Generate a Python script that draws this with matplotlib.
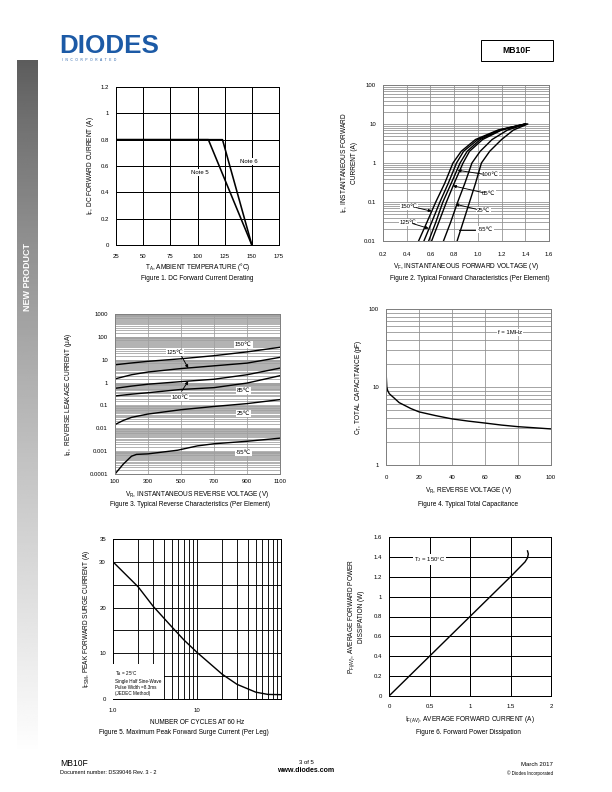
import numpy as np
import matplotlib.pyplot as plt
from matplotlib.patches import Rectangle

plt.rcParams['font.family'] = ['Liberation Sans', 'DejaVu Sans']
plt.rcParams['mathtext.fontset'] = 'custom'
plt.rcParams['mathtext.rm'] = 'Liberation Sans'
plt.rcParams['mathtext.it'] = 'Liberation Sans'
plt.rcParams['font.size'] = 6

W, H = 612, 792

# Figure 1 - derating
note5_t = [25, 110, 150]
note5_i = [0.8, 0.8, 0.0]
note6_t = [25, 123, 150]
note6_i = [0.8, 0.8, 0.0]

# Figure 2 - forward characteristics (I in A, V per curve)
fwd_i = [0.01, 0.03, 0.1, 0.3, 1, 2, 4, 7, 10]
fwd_v = {
    "150": [0.50, 0.57, 0.645, 0.72, 0.79, 0.86, 0.98, 1.17, 1.40],
    "125": [0.545, 0.61, 0.68, 0.75, 0.82, 0.88, 1.00, 1.18, 1.40],
    "100": [0.585, 0.645, 0.705, 0.775, 0.85, 0.91, 1.02, 1.19, 1.40],
    "85": [0.61, 0.67, 0.735, 0.80, 0.875, 0.93, 1.04, 1.20, 1.40],
    "25": [0.71, 0.77, 0.83, 0.89, 0.95, 1.02, 1.12, 1.25, 1.41],
    "-55": [0.825, 0.875, 0.93, 0.98, 1.03, 1.10, 1.20, 1.30, 1.42],
}

# Figure 3 - reverse characteristics (uA)
rev_v = [100, 200, 300, 500, 700, 900, 1100]
rev_150 = [6, 7.2, 8.5, 11, 15, 22, 35]
rev_125 = [1.45, 2.2, 2.9, 4.1, 5.4, 7.1, 12.7]
rev_100 = [0.56, 0.7, 0.85, 1.1, 1.4, 2.2, 4.3]
rev_85 = [0.26, 0.31, 0.36, 0.5, 0.6, 0.95, 2.0]
rev_v25 = [100, 150, 200, 300, 500, 700, 900, 1100]
rev_25 = [0.0145, 0.022, 0.03, 0.042, 0.065, 0.09, 0.12, 0.18]
rev_vm55 = [100, 150, 200, 230, 300, 480, 600, 700, 900, 1100]
rev_m55 = [0.0001, 0.00027, 0.0006, 0.00072, 0.00076, 0.0011, 0.0017, 0.0021, 0.0027, 0.0037]

# Figure 4 - capacitance
cap_v = [0, 0.5, 1, 2, 5, 8, 10, 15, 20, 30, 40, 50, 60, 70, 80, 90, 100]
cap_pf = [16, 10, 9, 8.2, 7.2, 6.3, 6.0, 5.3, 4.8, 4.3, 3.9, 3.65, 3.45, 3.25, 3.1, 3.0, 2.9]

# Figure 5 - surge current
surge_n = [1, 2, 3, 5, 7, 10, 20, 30, 50, 70, 100]
surge_a = [30, 24.5, 20.3, 15.8, 12.9, 10.2, 5.4, 3.2, 1.5, 1.0, 0.95]

# Figure 6 - power dissipation
pd_i = [0, 0.5, 1.0, 1.5, 1.62, 1.68, 1.71, 1.72, 1.71]
pd_p = [0, 0.4, 0.8, 1.2, 1.3, 1.35, 1.39, 1.43, 1.46]


def px_axes(fig, l, t, r, b):
    ax = fig.add_axes([l / W, 1 - b / H, (r - l) / W, (b - t) / H])
    ax._px = (l, t, r, b)
    return ax


def ftext(fig, x, y, s, **kw):
    fig.text(x / W, 1 - y / H, s, **kw)


def style(ax, color, xpad, ypad=7):
    for sp in ax.spines.values():
        sp.set_color(color)
        sp.set_linewidth(1)
    ax.tick_params(which='both', length=0, labelsize=6)
    ax.tick_params(axis='x', pad=xpad)
    ax.tick_params(axis='y', pad=ypad)
    ax.set_axisbelow(True)


def place_labels(ax, xlab_y, ylab_x):
    # put axis titles at page pixel positions (centre of text)
    l, t, r, b = ax._px
    ax.xaxis.set_label_coords(0.5, -(xlab_y - b) / (b - t))
    ax.xaxis.label.set_va('center')
    ax.yaxis.set_label_coords(-(l - ylab_x) / (r - l), 0.5)
    ax.yaxis.label.set_va('center')


box = dict(facecolor='white', edgecolor='none', pad=1)
arrow = dict(arrowstyle='-|>', color='black', lw=0.9, mutation_scale=6, shrinkA=0, shrinkB=0)

fig = plt.figure(figsize=(W / 72, H / 72), dpi=72)

# side bar
side = fig.add_axes([17 / W, 1 - 755 / H, 21 / W, 695 / H])
t = np.linspace(0, 1, 300)
grad = 0.36 + 0.64 * t ** 0.85
side.imshow(grad[:, None], cmap='gray', vmin=0, vmax=1, aspect='auto')
side.axis('off')
ftext(fig, 27.5, 277, "NEW PRODUCT", rotation=90, color='white', fontsize=9,
      fontweight='bold', ha='center', va='center')

# header
ftext(fig, 59, 46, "DIODES", fontsize=26, fontweight='bold', color='#1c5aa6',
      va='center', ha='left')
ftext(fig, 62, 60, "I   N   C   O   R   P   O   R   A   T   E   D", fontsize=3.2, color='#1c5aa6',
      va='center', ha='left')
fig.patches.append(Rectangle((481 / W, 1 - 61 / H), 72 / W, 21 / H, transform=fig.transFigure,
                             facecolor='white', edgecolor='black', lw=1))
ftext(fig, 517, 50.5, "MB10F", fontsize=8.5, fontweight='bold', ha='center', va='center')

# ---- Figure 1
ax1 = px_axes(fig, 116, 87, 279, 245)
style(ax1, 'black', 8.5)
ax1.set_xlim(25, 175)
ax1.set_ylim(0, 1.2)
ax1.set_xticks([25, 50, 75, 100, 125, 150, 175])
ax1.set_yticks([0, 0.2, 0.4, 0.6, 0.8, 1.0, 1.2])
ax1.set_yticklabels(['0', '0.2', '0.4', '0.6', '0.8', '1', '1.2'])
ax1.grid(color='black', lw=1)
ax1.plot(note5_t, note5_i, color='black', lw=1.6)
ax1.plot(note6_t, note6_i, color='black', lw=1.6)
ax1.text(102, 0.55, "Note 5", ha='center', va='center', bbox=box)
ax1.text(147, 0.635, "Note 6", ha='center', va='center', bbox=box)
ax1.set_xlabel(r"T$_{\mathregular{A}}$, AMBIENT TEMPERATURE (°C)", fontsize=6.5)
ax1.set_ylabel(r"I$_{\mathregular{F}}$, DC FORWARD CURRENT (A)", fontsize=6.5)
place_labels(ax1, 267, 90)
ftext(fig, 197, 279, "Figure 1. DC Forward Current Derating", fontsize=6.5, ha='center', va='center')

# ---- Figure 2
ax2 = px_axes(fig, 383, 85, 549, 241)
style(ax2, '#808080', 10.5)
ax2.set_yscale('log')
ax2.set_xlim(0.2, 1.6)
ax2.set_ylim(0.01, 100)
ax2.set_xticks([0.2, 0.4, 0.6, 0.8, 1.0, 1.2, 1.4, 1.6])
ax2.set_xticklabels(['0.2', '0.4', '0.6', '0.8', '1.0', '1.2', '1.4', '1.6'])
ax2.set_yticks([0.01, 0.1, 1, 10, 100])
ax2.set_yticklabels(['0.01', '0.1', '1', '10', '100'])
ax2.grid(which='both', color='#909090', lw=0.8)
for k, v in fwd_v.items():
    ax2.plot(v, fwd_i, color='black', lw=1.4)
ax2.text(0.42, 0.075, "150℃", ha='center', va='center', bbox=box)
ax2.annotate('', xy=(0.61, 0.058), xytext=(0.48, 0.072), arrowprops=arrow)
ax2.text(0.41, 0.03, "125℃", ha='center', va='center', bbox=box)
ax2.annotate('', xy=(0.585, 0.021), xytext=(0.45, 0.028), arrowprops=arrow)
ax2.text(1.1, 0.5, "100℃", ha='center', va='center', bbox=box)
ax2.annotate('', xy=(0.83, 0.65), xytext=(1.04, 0.52), arrowprops=arrow)
ax2.text(1.09, 0.17, "85℃", ha='center', va='center', bbox=box)
ax2.annotate('', xy=(0.79, 0.26), xytext=(1.04, 0.175), arrowprops=arrow)
ax2.text(1.05, 0.062, "25℃", ha='center', va='center', bbox=box)
ax2.annotate('', xy=(0.81, 0.088), xytext=(0.99, 0.065), arrowprops=arrow)
ax2.plot([0.84, 0.98], [0.0195, 0.0195], color='black', lw=0.9)
ax2.text(1.06, 0.0195, "-55℃", ha='center', va='center', bbox=box)
ax2.set_xlabel(r"V$_{\mathregular{F}}$, INSTANTANEOUS FORWARD VOLTAGE (V)", fontsize=6.5)
ax2.set_ylabel("I$_{\\mathregular{F}}$, INSTANTANEOUS FORWARD\nCURRENT (A)", fontsize=6.5)
place_labels(ax2, 266, 349)
ftext(fig, 470, 278, "Figure 2. Typical Forward Characteristics (Per Element)", fontsize=6.5,
      ha='center', va='center')

# ---- Figure 3
ax3 = px_axes(fig, 115, 314, 280, 474)
style(ax3, '#808080', 5)
ax3.set_yscale('log')
ax3.set_xlim(100, 1100)
ax3.set_ylim(0.0001, 1000)
ax3.set_xticks([100, 300, 500, 700, 900, 1100])
ax3.set_yticks([0.0001, 0.001, 0.01, 0.1, 1, 10, 100, 1000])
ax3.set_yticklabels(['0.0001', '0.001', '0.01', '0.1', '1', '10', '100', '1000'])
ax3.yaxis.set_minor_locator(plt.matplotlib.ticker.LogLocator(base=10, subs=np.arange(1.5, 10, 0.5), numticks=20))
ax3.yaxis.set_minor_formatter(plt.NullFormatter())
ax3.grid(which='both', color='#a0a0a0', lw=0.8)
for xs, ys in [(rev_v, rev_150), (rev_v, rev_125), (rev_v, rev_100), (rev_v, rev_85),
               (rev_v25, rev_25), (rev_vm55, rev_m55)]:
    ax3.plot(xs, ys, color='black', lw=1.4)
ax3.text(878, 46, "150℃", ha='center', va='center', bbox=box)
ax3.text(464, 21, "125℃", ha='center', va='center', bbox=box)
ax3.annotate('', xy=(544, 4.3), xytext=(504, 14), arrowprops=arrow)
ax3.text(494, 0.225, "100℃", ha='center', va='center', bbox=box)
ax3.annotate('', xy=(544, 1.15), xytext=(504, 0.42), arrowprops=arrow)
ax3.text(878, 0.47, "85℃", ha='center', va='center', bbox=box)
ax3.text(878, 0.044, "25℃", ha='center', va='center', bbox=box)
ax3.text(878, 0.00087, "-55℃", ha='center', va='center', bbox=box)
ax3.set_xlabel(r"V$_{\mathregular{R}}$, INSTANTANEOUS REVERSE VOLTAGE (V)", fontsize=6.5)
ax3.set_ylabel(r"I$_{\mathregular{R}}$,  REVERSE LEAKAGE CURRENT (μA)", fontsize=6.5)
place_labels(ax3, 494, 68)
ftext(fig, 190, 505, "Figure 3. Typical Reverse Characteristics (Per Element)", fontsize=6.5,
      ha='center', va='center')

# ---- Figure 4
ax4 = px_axes(fig, 386, 309, 551, 465)
style(ax4, '#808080', 10)
ax4.set_yscale('log')
ax4.set_xlim(0, 100)
ax4.set_ylim(1, 100)
ax4.set_xticks([0, 20, 40, 60, 80, 100])
ax4.set_yticks([1, 10, 100])
ax4.set_yticklabels(['1', '10', '100'])
ax4.grid(which='both', color='#909090', lw=0.8)
ax4.plot(cap_v, cap_pf, color='black', lw=1.4)
ax4.text(75, 50, "f = 1MHz", ha='center', va='center', bbox=box)
ax4.set_xlabel(r"V$_{\mathregular{R}}$, REVERSE VOLTAGE (V)", fontsize=6.5)
ax4.set_ylabel(r"C$_{\mathregular{T}}$, TOTAL CAPACITANCE (pF)", fontsize=6.5)
place_labels(ax4, 491, 359)
ftext(fig, 468, 505, "Figure 4. Typical Total Capacitance", fontsize=6.5, ha='center', va='center')

# ---- Figure 5
ax5 = px_axes(fig, 113, 539, 281, 699)
style(ax5, 'black', 8.5)
ax5.set_xscale('log')
ax5.set_xlim(1, 100)
ax5.set_ylim(0, 35)
ax5.set_xticks([1, 10])
ax5.set_xticklabels(['1.0', '10'])
ax5.xaxis.set_minor_locator(plt.matplotlib.ticker.LogLocator(base=10, subs=np.arange(2, 10), numticks=10))
ax5.xaxis.set_minor_formatter(plt.NullFormatter())
ax5.set_yticks([0, 5, 10, 15, 20, 25, 30, 35])
ax5.set_yticklabels(['0', '', '10', '', '20', '', '30', '35'])
ax5.grid(which='both', color='black', lw=0.9)
ax5.plot(surge_n, surge_a, color='black', lw=1.4)
ax5.text(1.05, 0.6, "T$_{\\mathregular{A}}$ = 25°C\nSingle Half Sine-Wave\nPulse Width =8.3ms\n(JEDEC Method)",
         fontsize=4.6, ha='left', va='bottom', linespacing=1.3,
         bbox=dict(facecolor='white', edgecolor='none', pad=3))
ax5.set_xlabel("NUMBER OF CYCLES AT 60 Hz", fontsize=6.5)
ax5.set_ylabel(r"I$_{\mathregular{FSM}}$, PEAK FORWARD SURGE CURRENT (A)", fontsize=6.5)
place_labels(ax5, 722, 86)
ftext(fig, 184, 733, "Figure 5. Maximum Peak Forward Surge Current (Per Leg)", fontsize=6.5,
      ha='center', va='center')

# ---- Figure 6
ax6 = px_axes(fig, 389, 537, 551, 696)
style(ax6, 'black', 8.5)
ax6.set_xlim(0, 2)
ax6.set_ylim(0, 1.6)
ax6.set_xticks([0, 0.5, 1, 1.5, 2])
ax6.set_xticklabels(['0', '0.5', '1', '1.5', '2'])
ax6.set_yticks([0, 0.2, 0.4, 0.6, 0.8, 1.0, 1.2, 1.4, 1.6])
ax6.set_yticklabels(['0', '0.2', '0.4', '0.6', '0.8', '1', '1.2', '1.4', '1.6'])
ax6.grid(color='black', lw=1)
ax6.plot(pd_i, pd_p, color='black', lw=1.4)
ax6.text(0.5, 1.37, "T$_{\\mathregular{J}}$ = 150°C", ha='center', va='center', bbox=box)
ax6.set_xlabel(r"I$_{\mathregular{F(AV)}}$, AVERAGE FORWARD CURRENT (A)", fontsize=6.5)
ax6.set_ylabel("P$_{\\mathregular{F(AV)}}$, AVERAGE FORWARD POWER\nDISSIPATION (W)", fontsize=6.5)
place_labels(ax6, 720, 356)
ftext(fig, 468, 733, "Figure 6. Forward Power Dissipation", fontsize=6.5, ha='center', va='center')

# footer
ftext(fig, 60, 763, "MB10F", fontsize=8.5, ha='left', va='center')
ftext(fig, 60, 773, "Document number: DS39046 Rev. 3 - 2", fontsize=5.5, ha='left', va='center')
ftext(fig, 306, 762, "3 of 5", fontsize=6, ha='center', va='center')
ftext(fig, 306, 771, "www.diodes.com", fontsize=7, fontweight='bold', ha='center', va='center')
ftext(fig, 553, 765, "March 2017", fontsize=6, ha='right', va='center')
ftext(fig, 553, 773, "© Diodes Incorporated", fontsize=4.5, ha='right', va='center')

fig.savefig("out.png", dpi=72)
